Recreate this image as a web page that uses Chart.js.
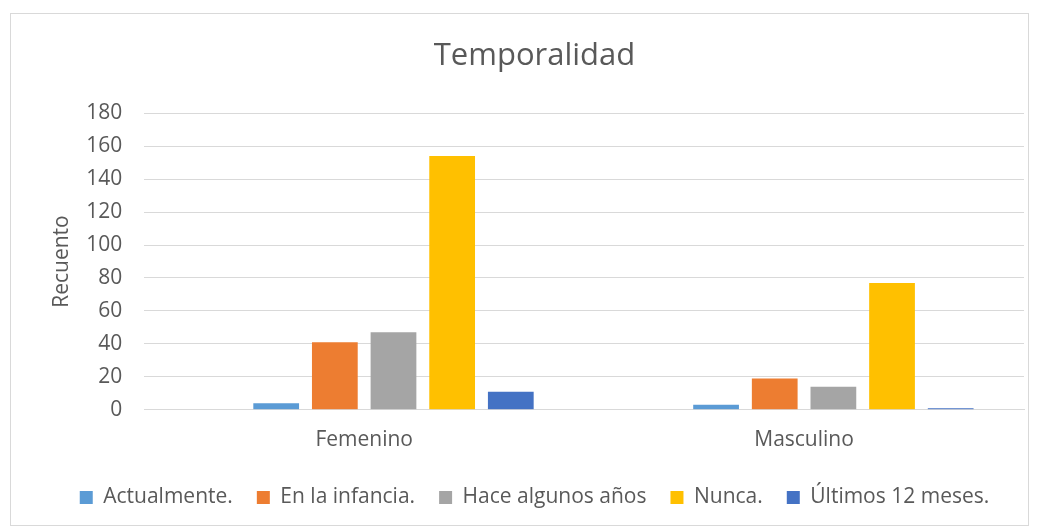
<!DOCTYPE html>
<html>
<head>
<meta charset="utf-8">
<script src="https://cdn.jsdelivr.net/npm/chart.js@4"></script>
<style>
    body { margin: 0; background: #fff; }
    .marco { position: absolute; left: 10px; top: 13px; width: 1019px; height: 513px; border: 1px solid #d9d9d9; box-sizing: border-box; }
</style>
</head>
<body>
<div class="marco"><canvas id="grafico"></canvas></div>
<script>
const categorias = ['Femenino', 'Masculino'];
// la primera serie está vacía (sin etiqueta) pero ocupa su hueco, como en Excel
const series = ['', 'Actualmente.', 'En la infancia.', 'Hace algunos años', 'Nunca.', 'Últimos 12 meses.'];
const vacia = [null, null];
const actualmente = [4, 3];
const enLaInfancia = [41, 19];
const haceAlgunos = [47, 14];
const nunca = [154, 77];
const ultimos12 = [11, 1];
const colores = ['#ffffff', '#5b9bd5', '#ed7d31', '#a5a5a5', '#ffc000', '#4472c4'];

const valores = [vacia, actualmente, enLaInfancia, haceAlgunos, nunca, ultimos12];
const datasets = series.map((nom, i) => ({
    label: nom,
    data: valores[i],
    backgroundColor: colores[i],
    borderWidth: 0,
    categoryPercentage: 0.8,
    barPercentage: 0.78
}));

const police = "'Open Sans', 'Liberation Sans', sans-serif";

new Chart(document.getElementById('grafico'), {
    type: 'bar',
    data: { labels: categorias, datasets: datasets },
    options: {
        responsive: true,
        maintainAspectRatio: false,
        animation: false,
        layout: { padding: { left: 34, right: 4, top: 6, bottom: 7 } },
        plugins: {
            title: {
                display: true,
                text: 'Temporalidad',
                color: '#595959',
                font: { family: police, size: 31, weight: 'normal' },
                padding: { top: 18, bottom: 38 }
            },
            legend: {
                position: 'bottom',
                labels: {
                    color: '#595959',
                    font: { family: police, size: 21 },
                    boxWidth: 13,
                    boxHeight: 13,
                    padding: 24,
                    filter: (item) => item.text !== ''
                }
            },
            tooltip: { enabled: false }
        },
        scales: {
            x: {
                grid: { display: false },
                border: { color: '#d9d9d9' },
                ticks: { color: '#595959', font: { family: police, size: 21 }, padding: 10 }
            },
            y: {
                min: 0,
                max: 180,
                ticks: { stepSize: 20, color: '#595959', font: { family: police, size: 21 }, padding: 22 },
                grid: { color: '#d9d9d9', drawTicks: false },
                border: { display: false },
                title: {
                    display: true,
                    text: 'Recuento',
                    color: '#595959',
                    font: { family: police, size: 21 },
                    padding: { top: 4, bottom: 0 }
                },
                afterFit: (scale) => { scale.width -= 10; }
            }
        }
    }
});
</script>
</body>
</html>
